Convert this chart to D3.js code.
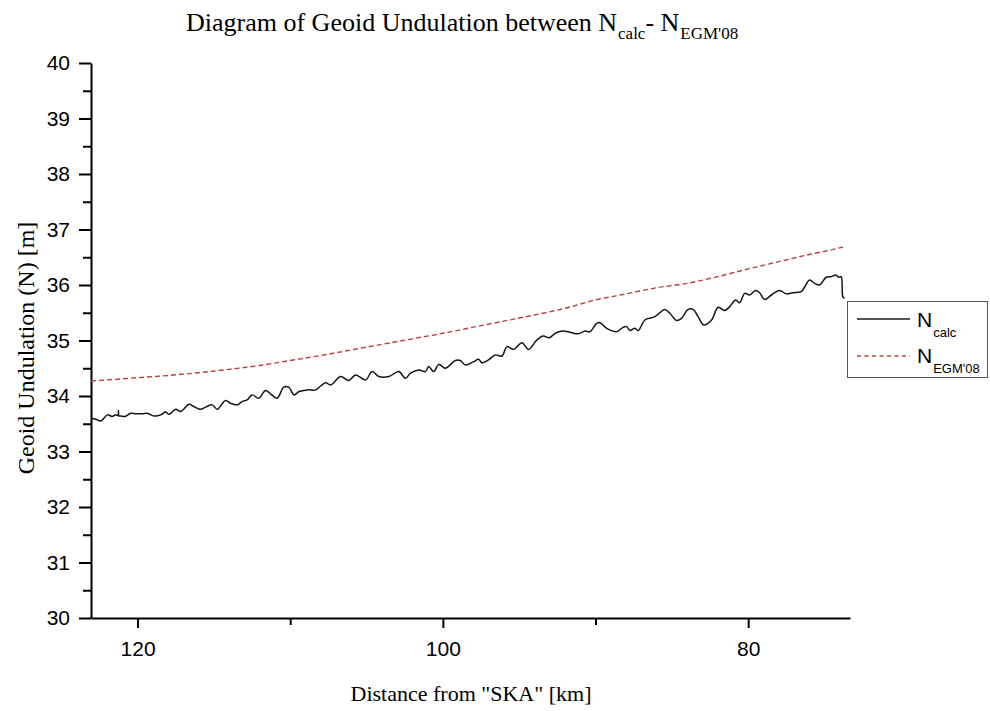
<!DOCTYPE html>
<html>
<head>
<meta charset="utf-8">
<script src="https://cdnjs.cloudflare.com/ajax/libs/d3/7.8.5/d3.min.js"></script>
<style>
  body { margin: 0; background: #fff; }
  svg { display: block; }
</style>
</head>
<body>
<svg id="chart" width="990" height="711"></svg>
<script>
// Computed geoid undulation along the profile (distance in km, N in m)
const calcKm = [123.04, 122.73, 122.41, 121.97, 121.65, 121.47, 121.29, 121.25, 121.22, 121.10,
  120.82, 120.44, 120.12, 119.69, 119.36, 118.92, 118.48, 118.16, 117.94, 117.50,
  117.18, 116.63, 116.31, 115.87, 115.54, 115.11, 114.78, 114.24, 113.91, 113.48,
  113.15, 112.82, 112.50, 112.06, 111.62, 111.29, 110.86, 110.42, 110.10, 109.75,
  109.42, 108.88, 108.33, 108.01, 107.68, 107.35, 106.70, 106.16, 105.72, 105.07,
  104.63, 104.20, 103.54, 102.89, 102.45, 102.12, 101.58, 101.14, 100.93, 100.60,
  100.27, 99.84, 99.18, 98.86, 98.53, 97.99, 97.66, 97.44, 97.01, 96.57,
  96.13, 95.80, 95.37, 94.82, 94.39, 93.84, 93.43, 93.04, 92.58, 92.12,
  91.67, 91.14, 90.69, 90.36, 89.92, 89.71, 89.27, 88.61, 88.18, 87.96,
  87.75, 87.42, 87.20, 86.77, 86.11, 85.46, 85.13, 84.69, 84.37, 83.93,
  83.61, 83.28, 82.91, 82.40, 81.97, 81.54, 81.21, 80.82, 80.56, 80.23,
  79.90, 79.53, 79.25, 78.92, 78.48, 77.94, 77.50, 77.07, 76.52, 76.31,
  75.98, 75.65, 75.33, 74.89, 74.56, 74.24, 74.07, 73.91, 73.80, 73.69];
const calcN = [33.60, 33.58, 33.55, 33.66, 33.63, 33.66, 33.65, 33.74, 33.64, 33.64,
  33.63, 33.69, 33.68, 33.68, 33.69, 33.64, 33.66, 33.71, 33.67, 33.76,
  33.72, 33.85, 33.81, 33.76, 33.80, 33.84, 33.76, 33.92, 33.87, 33.84,
  33.90, 33.93, 34.02, 33.96, 34.10, 34.04, 33.96, 34.16, 34.16, 34.02,
  34.08, 34.11, 34.11, 34.18, 34.24, 34.20, 34.35, 34.28, 34.38, 34.29,
  34.44, 34.35, 34.35, 34.44, 34.32, 34.41, 34.47, 34.44, 34.53, 34.44,
  34.57, 34.50, 34.64, 34.64, 34.56, 34.62, 34.66, 34.60, 34.65, 34.74,
  34.72, 34.89, 34.84, 34.96, 34.84, 35.01, 35.08, 35.05, 35.14, 35.17,
  35.15, 35.12, 35.17, 35.16, 35.31, 35.32, 35.22, 35.16, 35.24, 35.25,
  35.18, 35.22, 35.18, 35.37, 35.43, 35.56, 35.49, 35.36, 35.40, 35.56,
  35.56, 35.43, 35.28, 35.37, 35.60, 35.54, 35.61, 35.73, 35.68, 35.85,
  35.82, 35.90, 35.86, 35.74, 35.82, 35.90, 35.84, 35.86, 35.88, 35.96,
  36.09, 36.03, 36.00, 36.14, 36.15, 36.18, 36.14, 36.15, 35.79, 35.76];

// EGM2008 model undulation along the same profile
const egmKm = [123.04, 122, 120, 118, 116, 114, 112, 110, 108, 106, 104, 102, 100,
  98, 96, 94, 92, 90, 88, 86, 84, 82, 80, 78, 76, 74, 73.62];
const egmN = [34.27, 34.29, 34.33, 34.37, 34.42, 34.48, 34.55, 34.64, 34.73, 34.83, 34.93, 35.03, 35.13,
  35.24, 35.35, 35.46, 35.58, 35.73, 35.84, 35.95, 36.03, 36.15, 36.29, 36.42, 36.55, 36.67, 36.70];

// Axis ticks
const xMajorTicks = [120, 100, 80];
const xMinorTicks = [110, 90];
const yMajorTicks = [30, 31, 32, 33, 34, 35, 36, 37, 38, 39, 40];
const yMinorTicks = [30.5, 31.5, 32.5, 33.5, 34.5, 35.5, 36.5, 37.5, 38.5, 39.5];

const svg = d3.select("#chart");
const plot = { left: 91, right: 850, top: 63, bottom: 618 };

const x = d3.scaleLinear().domain([123.05, 73.33]).range([plot.left, plot.right]);
const y = d3.scaleLinear().domain([30, 40]).range([plot.bottom, plot.top]);

const tickFont = "'Liberation Sans', Arial, sans-serif";
const serif = "'Liberation Serif', 'Times New Roman', serif";

// Minor ticks first (no labels)
svg.append("g")
  .attr("transform", `translate(${plot.left},0)`)
  .call(d3.axisLeft(y).tickValues(yMinorTicks).tickSize(8).tickFormat(""))
  .call(g => g.select(".domain").remove())
  .call(g => g.selectAll("line").attr("stroke", "#000").attr("stroke-width", 2));

svg.append("g")
  .attr("transform", `translate(0,${plot.bottom})`)
  .call(d3.axisBottom(x).tickValues(xMinorTicks).tickSize(7).tickFormat(""))
  .call(g => g.select(".domain").remove())
  .call(g => g.selectAll("line").attr("stroke", "#000").attr("stroke-width", 2));

// Major axes
const yAxis = svg.append("g")
  .attr("transform", `translate(${plot.left},0)`)
  .call(d3.axisLeft(y).tickValues(yMajorTicks).tickSize(12).tickSizeOuter(0).tickPadding(9).tickFormat(d3.format("d")));
yAxis.select(".domain").attr("stroke", "#000").attr("stroke-width", 2);
yAxis.selectAll("line").attr("stroke", "#000").attr("stroke-width", 2);
yAxis.selectAll("text").attr("font-family", tickFont).attr("font-size", 21).attr("fill", "#000");

const xAxis = svg.append("g")
  .attr("transform", `translate(0,${plot.bottom})`)
  .call(d3.axisBottom(x).tickValues(xMajorTicks).tickSize(10).tickSizeOuter(0).tickPadding(13).tickFormat(d3.format("d")));
xAxis.select(".domain").attr("stroke", "#000").attr("stroke-width", 2);
xAxis.selectAll("line").attr("stroke", "#000").attr("stroke-width", 2);
xAxis.selectAll("text").attr("font-family", tickFont).attr("font-size", 21).attr("fill", "#000");

// Series
const redColor = "#b8403e";
const lineCalc = d3.line().x((d, i) => x(calcKm[i])).y(d => y(d)).curve(d3.curveCatmullRom.alpha(0.5));
const lineEgm = d3.line().x((d, i) => x(egmKm[i])).y(d => y(d)).curve(d3.curveMonotoneX);

svg.append("path")
  .attr("d", lineEgm(egmN))
  .attr("fill", "none")
  .attr("stroke", redColor)
  .attr("stroke-width", 1.4)
  .attr("stroke-dasharray", "5,3");

svg.append("path")
  .attr("d", lineCalc(calcN))
  .attr("fill", "none")
  .attr("stroke", "#151515")
  .attr("stroke-width", 1.5);

// Title with subscripts
const title = svg.append("text")
  .attr("x", 186).attr("y", 31)
  .attr("font-family", serif).attr("font-size", 26).attr("fill", "#000");
title.append("tspan").text("Diagram of Geoid Undulation between N");
title.append("tspan").attr("font-size", 17).attr("dy", 8).attr("dx", 1).text("calc");
title.append("tspan").attr("dy", -8).text("- N");
title.append("tspan").attr("font-size", 17).attr("dy", 8).attr("dx", 1).text("EGM'08");

// Axis titles
svg.append("text")
  .attr("x", 471).attr("y", 701)
  .attr("text-anchor", "middle")
  .attr("font-family", serif).attr("font-size", 22).attr("fill", "#000")
  .text("Distance from \"SKA\" [km]");

svg.append("text")
  .attr("transform", "translate(34,348) rotate(-90)")
  .attr("text-anchor", "middle")
  .attr("font-family", serif).attr("font-size", 24).attr("fill", "#000")
  .text("Geoid Undulation (N) [m]");

// Legend
const legend = svg.append("g");
legend.append("rect")
  .attr("x", 847.5).attr("y", 301.5).attr("width", 140).attr("height", 76)
  .attr("fill", "#fff").attr("stroke", "#555").attr("stroke-width", 1);

legend.append("line")
  .attr("x1", 857).attr("x2", 910).attr("y1", 319).attr("y2", 319)
  .attr("stroke", "#1a1a1a").attr("stroke-width", 1.3);
legend.append("line")
  .attr("x1", 857).attr("x2", 910).attr("y1", 356).attr("y2", 356)
  .attr("stroke", redColor).attr("stroke-width", 1.3).attr("stroke-dasharray", "4,3.5");

const l1 = legend.append("text").attr("x", 917).attr("y", 327)
  .attr("font-family", tickFont).attr("font-size", 21).attr("fill", "#000");
l1.append("tspan").text("N");
l1.append("tspan").attr("font-size", 13).attr("dy", 10).attr("dx", 1).text("calc");

const l2 = legend.append("text").attr("x", 917).attr("y", 363)
  .attr("font-family", tickFont).attr("font-size", 21).attr("fill", "#000");
l2.append("tspan").text("N");
l2.append("tspan").attr("font-size", 13).attr("dy", 10).attr("dx", 1).text("EGM'08");
</script>
</body>
</html>
